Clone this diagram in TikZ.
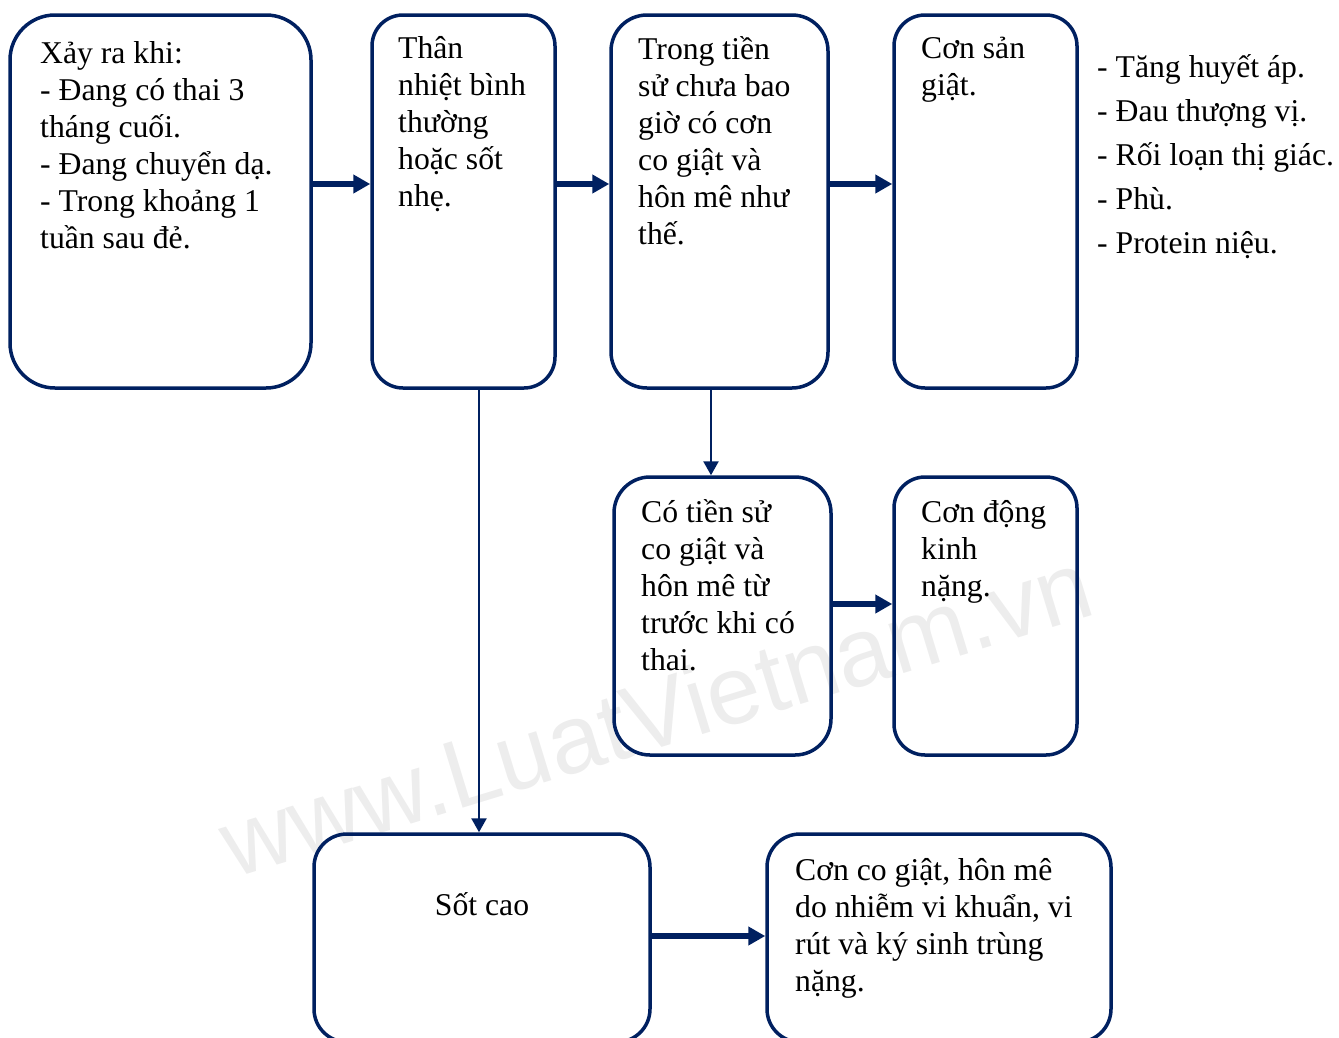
\documentclass[tikz,border=0pt]{standalone}
\usepackage{fontspec}
\setmainfont{Liberation Serif}
\newfontfamily\wmfont{Liberation Sans}
\usetikzlibrary{arrows.meta}
\definecolor{navy}{HTML}{002060}
\definecolor{wmgray}{HTML}{EDEDED}

\begin{document}
\begin{tikzpicture}[x=1pt,y=-1pt,
  box/.style={draw=navy, line width=3.5pt, rectangle, inner sep=0pt, anchor=center},
  % multi-line labels are anchored at the baseline of their last line
  txt/.style={anchor=base west, inner sep=0pt, align=left, font=\fontsize{31.7}{37}\selectfont},
  listtxt/.style={anchor=base west, inner sep=0pt, align=left, font=\fontsize{31.7}{44}\selectfont},
  bigarrow/.style={draw=navy, line width=6pt, -{Triangle[length=17pt,width=18pt]}},
  thinarrow/.style={draw=navy, line width=2.5pt, -{Triangle[length=14pt,width=15pt]}},
]
\useasboundingbox (0,0) rectangle (1339,1037);

% watermark
\node[anchor=base, rotate=17, text=wmgray, inner sep=0pt,
      font=\wmfont\fontsize{97}{97}\selectfont] (wm) at (666,746) {www.LuatVietnam.vn};

% boxes
\node[box, minimum width=301pt, minimum height=373pt, rounded corners=45pt] (b1) at (160.5,201.5) {};
\node[box, minimum width=183pt, minimum height=373pt, rounded corners=31pt] (b2) at (463.5,201.5) {};
\node[box, minimum width=217pt, minimum height=373pt, rounded corners=36pt] (b3) at (719.5,201.5) {};
\node[box, minimum width=183pt, minimum height=373pt, rounded corners=31pt] (b4) at (985.5,201.5) {};
\node[box, minimum width=217pt, minimum height=278pt, rounded corners=36pt] (b5) at (722.5,616) {};
\node[box, minimum width=183pt, minimum height=278pt, rounded corners=31pt] (b6) at (985.5,616) {};
\node[box, minimum width=336pt, minimum height=208pt, rounded corners=33pt] (b7) at (482,938) {};
\node[box, minimum width=344pt, minimum height=208pt, rounded corners=33pt] (b8) at (939,938) {};

% texts
\node[txt] (t1) at (40,248) {Xảy ra khi:\\- Đang có thai 3\\tháng cuối.\\- Đang chuyển dạ.\\- Trong khoảng 1\\tuần sau đẻ.};
\node[txt] (t2) at (398,206) {Thân\\nhiệt bình\\thường\\hoặc sốt\\nhẹ.};
\node[txt] (t3) at (638,244) {Trong tiền\\sử chưa bao\\giờ có cơn\\co giật và\\hôn mê như\\thế.};
\node[txt] (t4) at (921,95) {Cơn sản\\giật.};
\node[listtxt] (t4b) at (1097,253) {- Tăng huyết áp.\\- Đau thượng vị.\\- Rối loạn thị giác.\\- Phù.\\- Protein niệu.};
\node[txt] (t5) at (641,670) {Có tiền sử\\co giật và\\hôn mê từ\\trước khi có\\thai.};
\node[txt] (t6) at (921,596) {Cơn động\\kinh\\nặng.};
\node[txt, anchor=base] (t7) at (482,915) {Sốt cao};
\node[txt] (t8) at (795,991) {Cơn co giật, hôn mê\\do nhiễm vi khuẩn, vi\\rút và ký sinh trùng\\nặng.};

% connector rows and columns
\coordinate (r1) at (0,184);
\coordinate (r2) at (0,604);
\coordinate (r3) at (0,936);
\coordinate (c1) at (479,0);
\coordinate (c2) at (711,0);

% connectors
\draw[bigarrow] (b1.east |- r1) -- (b2.west |- r1);
\draw[bigarrow] (b2.east |- r1) -- (b3.west |- r1);
\draw[bigarrow] (b3.east |- r1) -- (b4.west |- r1);
\draw[bigarrow] (b5.east |- r2) -- (b6.west |- r2);
\draw[bigarrow] (b7.east |- r3) -- (b8.west |- r3);
\draw[thinarrow] (b2.south -| c1) -- (b7.north -| c1);
\draw[thinarrow] (b3.south -| c2) -- (b5.north -| c2);
\end{tikzpicture}
\end{document}
